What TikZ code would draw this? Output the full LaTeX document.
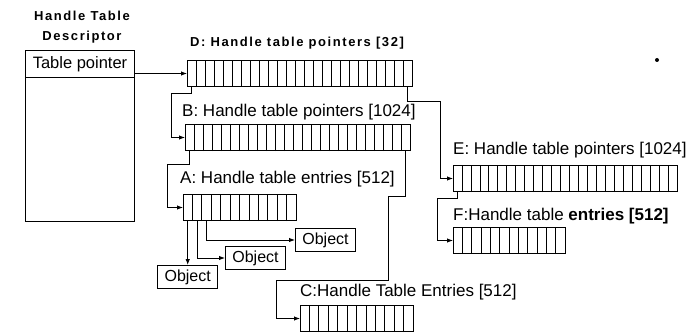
\documentclass[tikz,border=0pt]{standalone}
\usepackage{fontspec}
\setmainfont{Liberation Sans}
\newfontfamily\headfont[LetterSpace=12]{Liberation Sans}
\usetikzlibrary{arrows.meta}
\usetikzlibrary{calc}

\tikzset{
    cellrow/.style={draw, line width=1pt, minimum height=26pt, inner sep=0pt},
    cellline/.style={line width=0.7pt},
    ptr/.style={-{Latex[length=6pt,width=4.5pt]}, line width=0.9pt},
    objbox/.style={draw, line width=1pt, minimum height=23pt, minimum width=60pt, inner sep=2pt, font=\fontsize{16}{18}\selectfont},
    tlabel/.style={anchor=west, inner sep=0pt, font=\fontsize{17}{19}\selectfont},
    hlabel/.style={anchor=west, inner sep=0pt, font=\headfont\bfseries\fontsize{13}{20}\selectfont}
}

% #1 name, #2 north west corner, #3 cells, #4 width
\newcommand{\celltable}[4]{
    \node[cellrow, minimum width=#4pt, anchor=north west] (#1) at #2 {};
    \foreach \i in {1,...,#3}{
        \coordinate (#1-\i) at ($(#1.south west)+({(\i-0.5)*#4/#3},0)$);
        \draw[cellline] ($(#1.south west)+({\i*#4/#3},0)$) -- ($(#1.north west)+({\i*#4/#3},0)$);
    }
}

\begin{document}
\begin{tikzpicture}[x=1pt, y=-1pt]
        \useasboundingbox (0,0) rectangle (693,334);
        \node[draw, line width=1pt, minimum width=109pt, minimum height=171pt, anchor=north west, inner sep=0pt] (desc) at (25,50) {};
        \node[draw, line width=1pt, minimum width=109pt, minimum height=27pt, anchor=north west, inner sep=0pt, font=\fontsize{16.5}{18}\selectfont] (tp) at (25,50) {Table pointer};
        \node[align=center, inner sep=0pt, font=\headfont\bfseries\fontsize{13}{20}\selectfont] (desctitle) at (82,27) {Handle Table\\Descriptor};

        \celltable{D}{(187,60)}{25}{225}
        \celltable{B}{(185,124)}{25}{225}
        \celltable{A}{(183,194)}{12}{113}
        \celltable{E}{(453,165)}{25}{224}
        \celltable{F}{(453,227)}{12}{112}
        \celltable{C}{(300,305)}{12}{113}

        \node[hlabel] (Dlabel) at (190,43) {D: Handle table pointers [32]};
        \node[tlabel] (Blabel) at (182,112) {B: Handle table pointers [1024]};
        \node[tlabel] (Alabel) at (180,179) {A: Handle table entries [512]};
        \node[tlabel] (Elabel) at (453,150) {E: Handle table pointers [1024]};
        \node[tlabel] (Flabel) at (453,216) {F:Handle table \textbf{entries [512]}};
        \node[tlabel] (Clabel) at (300,292) {C:Handle Table Entries [512]};

        \node[objbox, anchor=north] (obj3) at ($(A-1)+(0,44)$) {Object};
        \node[objbox, anchor=west] (obj2) at (225,258) {Object};
        \node[objbox, anchor=west] (obj1) at (295,240) {Object};

        \draw[ptr] (tp.east |- D.west) -- (D.west);
        \draw[ptr] (D-1) -- ++(0,6) -| ([xshift=-14pt]B.west) -- (B.west);
        \draw[ptr] (D-25) -- ++(0,14) -| ([xshift=-13pt]E.west) -- (E.west);
        \draw[ptr] (B-1) -- ++(0,13) -| ([xshift=-16pt]A.west) -- (A.west);
        \draw[ptr] (B-25) -- ++(0,45) -| ++(-17,84) -| ([xshift=-24pt]C.west) -- (C.west);
        \draw[ptr] (E-1) -- ++(0,6) -| ([xshift=-16pt]F.west) -- (F.west);
        \draw[ptr] (A-1) -- (obj3.north);
        \draw[ptr] (A-2) |- (obj2.west);
        \draw[ptr] (A-3) |- (obj1.west);

        \fill (657,60) circle (2pt);
\end{tikzpicture}
\end{document}
